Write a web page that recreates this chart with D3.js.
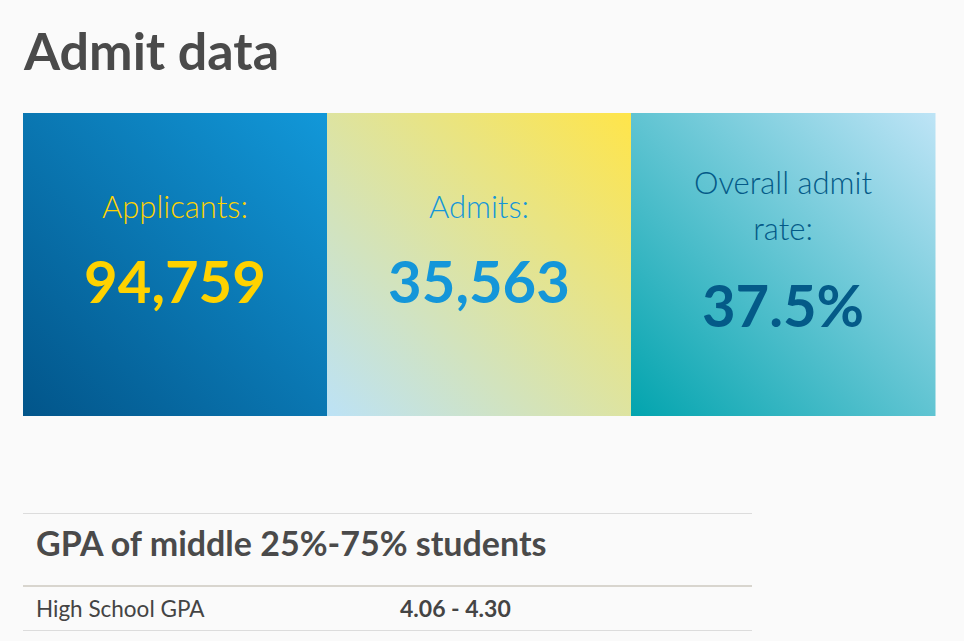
<!DOCTYPE html>
<html><head><meta charset="utf-8">
<script src="https://cdn.jsdelivr.net/npm/d3@7"></script>
<style>
html,body{margin:0;padding:0;background:#fafafa;}
svg{display:block;}
</style></head>
<body>
<script>
const categories = ["Applicants:", "Admits:", "Overall admit rate:"];
const values = [94759, 35563, 37.5];
const valueFormats = ["count", "count", "percent"];
const tableTitle = "GPA of middle 25%-75% students";
const tableRows = ["High School GPA"];
const tableValues = ["4.06 - 4.30"];

const W = 964, H = 641;
const FONT = "Lato, 'Noto Sans', sans-serif";
const svg = d3.select("body").append("svg").attr("width", W).attr("height", H);
svg.append("rect").attr("width", W).attr("height", H).attr("fill", "#fafafa");

svg.append("text").attr("x", 24).attr("y", 70)
  .attr("font-family", FONT).attr("font-weight", 700).attr("font-size", 52)
  .attr("fill", "#4a4a4a").text("Admit data");

const themes = [
  {tr: "#1298d9", bl: "#02558a", label: "#ffd200", value: "#ffd200"},
  {tr: "#ffe54a", bl: "#bce2f6", label: "#1496d9", value: "#1496d9"},
  {tr: "#bee4f6", bl: "#02a4ae", label: "#045a88", value: "#045a88"}
];

const defs = svg.append("defs");
themes.forEach((t, i) => {
  const g = defs.append("linearGradient").attr("id", "g" + i)
    .attr("x1", "0%").attr("y1", "100%").attr("x2", "100%").attr("y2", "0%");
  g.append("stop").attr("offset", "0%").attr("stop-color", t.bl);
  g.append("stop").attr("offset", "100%").attr("stop-color", t.tr);
});

const x = d3.scaleBand().domain(categories).range([23, 935]).padding(0);
const boxTop = 113, boxH = 303;
const fmt = (v, f) => f === "percent" ? d3.format(".1f")(v) + "%" : d3.format(",")(v);

const cards = svg.selectAll("g.card").data(categories).join("g")
  .attr("class", "card").attr("transform", d => `translate(${x(d)},${boxTop})`);

cards.append("rect").attr("width", x.bandwidth() + 0.5).attr("height", boxH)
  .attr("fill", (d, i) => `url(#g${i})`);

cards.each(function(d, i) {
  const g = d3.select(this);
  const cx = x.bandwidth() / 2;
  const lines = i === 2 ? ["Overall admit", "rate:"] : [d];
  const labelY0 = i === 2 ? 81 : 105;
  lines.forEach((ln, j) => {
    g.append("text").attr("x", cx).attr("y", labelY0 + j * 46)
      .attr("text-anchor", "middle").attr("font-family", FONT).attr("font-weight", 300)
      .attr("font-size", 31).attr("fill", themes[i].label).text(ln);
  });
  g.append("text").attr("x", cx).attr("y", i === 2 ? 214 : 190)
    .attr("text-anchor", "middle").attr("font-family", FONT).attr("font-weight", 700)
    .attr("font-size", 58).attr("fill", themes[i].value)
    .text(fmt(values[i], valueFormats[i]));
});

// table
svg.append("line").attr("x1", 23).attr("x2", 752).attr("y1", 513.5).attr("y2", 513.5)
  .attr("stroke", "#dcdcdc").attr("stroke-width", 1);
svg.append("text").attr("x", 36).attr("y", 556)
  .attr("font-family", FONT).attr("font-weight", 700).attr("font-size", 34)
  .attr("fill", "#4a4a4a").text(tableTitle);
svg.append("line").attr("x1", 23).attr("x2", 752).attr("y1", 586).attr("y2", 586)
  .attr("stroke", "#d8d5ce").attr("stroke-width", 2);

const rowY = d3.scaleBand().domain(tableRows).range([587, 630]);
tableRows.forEach((r, i) => {
  const y = rowY(r) + rowY.bandwidth() / 2 + 8;
  svg.append("text").attr("x", 36).attr("y", y)
    .attr("font-family", FONT).attr("font-size", 22.5).attr("fill", "#444").text(r);
  svg.append("text").attr("x", 400).attr("y", y)
    .attr("font-family", FONT).attr("font-weight", 700).attr("font-size", 23)
    .attr("fill", "#444").text(tableValues[i]);
  svg.append("line").attr("x1", 23).attr("x2", 752)
    .attr("y1", rowY(r) + rowY.bandwidth() + 0.5).attr("y2", rowY(r) + rowY.bandwidth() + 0.5)
    .attr("stroke", "#dcdcdc").attr("stroke-width", 1);
});
</script>
</body></html>
